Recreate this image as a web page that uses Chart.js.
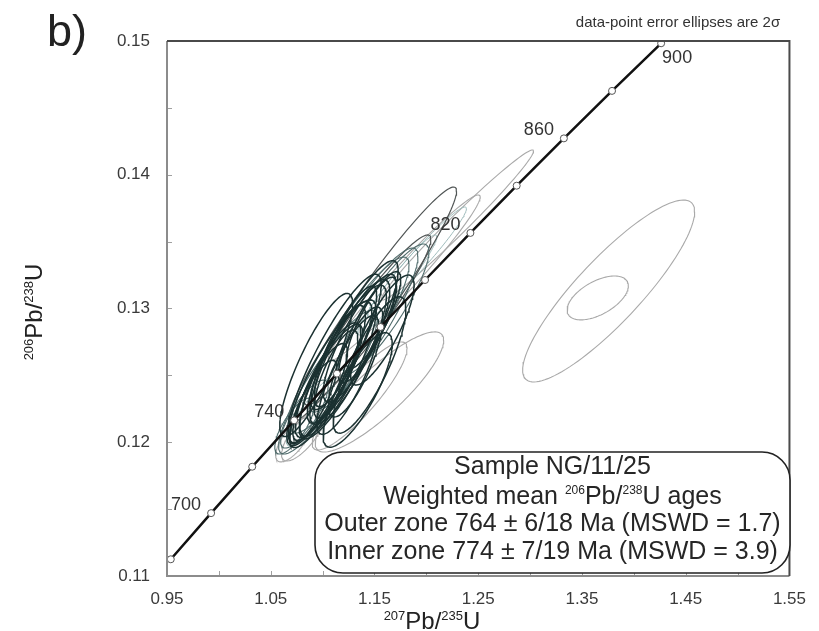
<!DOCTYPE html>
<html>
<head>
<meta charset="utf-8">
<script src="https://cdn.jsdelivr.net/npm/chart.js@4.4.1/dist/chart.umd.min.js"></script>
<style>
  html, body { margin: 0; padding: 0; background: #ffffff; }
  canvas { display: block; }
</style>
</head>
<body>
<canvas id="chart" width="819" height="631"></canvas>
<script>
// ---- Concordia: age markers (Ma) with their 207Pb/235U and 206Pb/238U ratios ----
const concAges = [680, 700, 720, 740, 760, 780, 800, 820, 840, 860, 880, 900];
const concX = [0.95365, 0.99251, 1.03214, 1.07257, 1.11380, 1.15585, 1.19873, 1.24247, 1.28708, 1.33257, 1.37897, 1.42630];
const concY = [0.11125, 0.11470, 0.11817, 0.12164, 0.12513, 0.12862, 0.13213, 0.13565, 0.13918, 0.14272, 0.14627, 0.14983];
const concLabelAges = [700, 740, 820, 860, 900];

// ---- Zircon spot analyses: ratios, 2-sigma errors, error correlation, group ----
const ellX   = [1.1195, 1.1148, 1.1262, 1.1052, 1.1357, 1.1110, 1.1243, 1.0976, 1.1433, 1.1071,
                1.1319, 1.1205, 1.0910, 1.1490, 1.1167, 1.1033, 1.1290, 1.1129,
                1.1452, 1.1338, 1.1576, 1.0938,
                1.1262, 1.1395, 1.1052, 1.0824, 1.0729, 1.1586, 1.1481, 1.1433,
                1.2300, 1.1786, 1.1548, 1.1357, 1.0719, 1.0814, 1.3757, 1.3652,
                1.1910, 1.1719, 1.0938];
const ellY   = [0.12600, 0.12555, 0.12675, 0.12465, 0.12779, 0.12615, 0.12503, 0.12376, 0.12839, 0.12525,
                0.12600, 0.12705, 0.12301, 0.12914, 0.12645, 0.12421, 0.12750, 0.12510,
                0.12578, 0.12391, 0.12839, 0.12578,
                0.12727, 0.12839, 0.12450, 0.12211, 0.12121, 0.12989, 0.13026, 0.12914,
                0.13624, 0.13228, 0.12376, 0.12346, 0.12017, 0.12054, 0.13131, 0.13079,
                0.13348, 0.13176, 0.12256];
const ellSX  = [0.0420, 0.0368, 0.0385, 0.0316, 0.0351, 0.0455, 0.0298, 0.0263, 0.0281, 0.0403,
                0.0263, 0.0316, 0.0228, 0.0263, 0.0246, 0.0351, 0.0438, 0.0211,
                0.0351, 0.0333, 0.0306, 0.0351,
                0.0571, 0.0524, 0.0476, 0.0229, 0.0190, 0.0438, 0.0810, 0.0610,
                0.0733, 0.0733, 0.0619, 0.0457, 0.0171, 0.0210, 0.0829, 0.0295,
                0.0476, 0.0381, 0.0286];
const ellSY  = [0.00575, 0.00510, 0.00542, 0.00428, 0.00477, 0.00641, 0.00444, 0.00362, 0.00395, 0.00527,
                0.00411, 0.00461, 0.00312, 0.00362, 0.00378, 0.00461, 0.00608, 0.00329,
                0.00510, 0.00428, 0.00411, 0.00535,
                0.00658, 0.00613, 0.00538, 0.00254, 0.00209, 0.00493, 0.00882, 0.00636,
                0.00561, 0.00621, 0.00449, 0.00404, 0.00164, 0.00194, 0.00680, 0.00164,
                0.00411, 0.00374, 0.00284];
const ellRho = [0.86, 0.84, 0.85, 0.83, 0.85, 0.88, 0.82, 0.83, 0.84, 0.87,
                0.78, 0.85, 0.82, 0.84, 0.80, 0.86, 0.88, 0.78,
                0.82, 0.80, 0.82, 0.85,
                0.91, 0.90, 0.89, 0.80, 0.75, 0.88, 0.965, 0.95,
                0.985, 0.975, 0.86, 0.88, 0.70, 0.75, 0.87, 0.55,
                0.97, 0.96, 0.88];
const ellGroup = ['core','core','core','core','core','core','core','core','core','core',
                  'core','core','core','core','core','core','core','core',
                  'core','core','core','core',
                  'rim','rim','rim','rim','rim','rim','outlier','outlier',
                  'excluded','excluded','excluded','excluded','excluded','excluded','excluded','excluded',
                  'faint','faint','faint'];

// ---- Axis ticks ----
const xTicks = [0.95, 1.05, 1.15, 1.25, 1.35, 1.45, 1.55];
const yTicks = [0.11, 0.12, 0.13, 0.14, 0.15];

const FONT = '"Liberation Sans", Arial, sans-serif';

const groupStyle = {
  core:     { color: '#1b3131', width: 1.5, order: 2 },
  rim:      { color: '#4f6b6b', width: 1.1, order: 3 },
  outlier:  { color: '#505555', width: 1.2, order: 3 },
  faint:    { color: '#9fbcbc', width: 1.0, order: 4 },
  excluded: { color: '#a9a9a9', width: 1.1, order: 5 }
};

// outline of one error ellipse, traced in data space
function ellipseOutline(i) {
  const pts = [];
  const n = 120;
  const r = ellRho[i];
  const k = Math.sqrt(1 - r * r);
  for (let j = 0; j <= n; j++) {
    const t = 2 * Math.PI * j / n;
    const c = Math.cos(t), s = Math.sin(t);
    pts.push({ x: ellX[i] + ellSX[i] * c, y: ellY[i] + ellSY[i] * (r * c + k * s) });
  }
  return pts;
}

const datasets = [];
datasets.push({
  label: 'Concordia',
  data: concX.map((x, i) => ({ x: x, y: concY[i] })),
  showLine: true,
  borderColor: '#111111',
  borderWidth: 2.5,
  pointRadius: 3.5,
  pointBackgroundColor: '#ffffff',
  pointBorderColor: '#555555',
  pointBorderWidth: 1,
  tension: 0,
  order: 0
});
for (let i = 0; i < ellX.length; i++) {
  const st = groupStyle[ellGroup[i]];
  datasets.push({
    label: 'spot ' + (i + 1),
    data: ellipseOutline(i),
    showLine: true,
    borderColor: st.color,
    borderWidth: st.width,
    pointRadius: 0,
    fill: false,
    tension: 0,
    order: st.order
  });
}

// text with superscript runs
function drawParts(ctx, parts, cx, baseline, mainSize, supSize, raise, color) {
  ctx.textAlign = 'left';
  ctx.textBaseline = 'alphabetic';
  ctx.fillStyle = color;
  let total = 0;
  const widths = parts.map(p => {
    ctx.font = (p.sup ? supSize : mainSize) + 'px ' + FONT;
    const w = ctx.measureText(p.t).width;
    total += w;
    return w;
  });
  let x = cx - total / 2;
  parts.forEach((p, i) => {
    ctx.font = (p.sup ? supSize : mainSize) + 'px ' + FONT;
    ctx.fillText(p.t, x, p.sup ? baseline - raise : baseline);
    x += widths[i];
  });
}

const decorations = {
  id: 'decorations',
  beforeDraw(chart) {
    const ctx = chart.ctx;
    ctx.save();
    ctx.fillStyle = '#ffffff';
    ctx.fillRect(0, 0, chart.width, chart.height);
    ctx.restore();
  },
  afterDatasetsDraw(chart) {
    const ctx = chart.ctx;
    const a = chart.chartArea;
    const xs = chart.scales.x, ys = chart.scales.y;
    ctx.save();

    // small inward tick marks
    ctx.strokeStyle = '#a0a0a0';
    ctx.lineWidth = 1;
    for (let i = 0; i < xTicks.length; i++) {
      const vals = [xTicks[i]];
      if (i < xTicks.length - 1) vals.push((xTicks[i] + xTicks[i + 1]) / 2);
      vals.forEach(v => {
        const px = Math.round(xs.getPixelForValue(v)) + 0.5;
        ctx.beginPath(); ctx.moveTo(px, a.bottom); ctx.lineTo(px, a.bottom - 5); ctx.stroke();
      });
    }
    for (let i = 0; i < yTicks.length; i++) {
      const vals = [yTicks[i]];
      if (i < yTicks.length - 1) vals.push((yTicks[i] + yTicks[i + 1]) / 2);
      vals.forEach(v => {
        const py = Math.round(ys.getPixelForValue(v)) + 0.5;
        ctx.beginPath(); ctx.moveTo(a.left, py); ctx.lineTo(a.left + 5, py); ctx.stroke();
      });
    }

    // plot frame
    ctx.lineWidth = 2;
    ctx.strokeStyle = '#8c8c8c';
    ctx.beginPath(); ctx.moveTo(a.left, a.top); ctx.lineTo(a.left, a.bottom); ctx.lineTo(a.right, a.bottom); ctx.stroke();
    ctx.strokeStyle = '#4a4a4a';
    ctx.beginPath(); ctx.moveTo(a.left, a.top); ctx.lineTo(a.right, a.top); ctx.lineTo(a.right, a.bottom); ctx.stroke();

    // concordia age labels
    ctx.font = '18px ' + FONT;
    ctx.fillStyle = '#333333';
    ctx.textAlign = 'center';
    ctx.textBaseline = 'middle';
    concLabelAges.forEach(age => {
      const i = concAges.indexOf(age);
      const px = xs.getPixelForValue(concX[i]);
      const py = ys.getPixelForValue(concY[i]);
      const off = (i === concAges.length - 1) ? [16, 15] : [-25, -8];
      ctx.fillText(String(age), px + off[0], py + off[1]);
    });

    // results box
    const bx = 315, by = 452, bw = 475, bh = 121, br = 28;
    ctx.beginPath();
    ctx.roundRect(bx, by, bw, bh, br);
    ctx.fillStyle = '#ffffff';
    ctx.fill();
    ctx.lineWidth = 1.6;
    ctx.strokeStyle = '#222222';
    ctx.stroke();

    const cx = bx + bw / 2;
    ctx.fillStyle = '#262626';
    ctx.textAlign = 'center';
    ctx.textBaseline = 'middle';
    ctx.font = '25px ' + FONT;
    ctx.fillText('Sample NG/11/25', cx, 467);
    drawParts(ctx, [
      { t: 'Weighted mean ' }, { t: '206', sup: true }, { t: 'Pb/' },
      { t: '238', sup: true }, { t: 'U ages' }
    ], cx, 504, 25, 12, 10, '#262626');
    ctx.textAlign = 'center';
    ctx.textBaseline = 'middle';
    ctx.font = '25px ' + FONT;
    ctx.fillText('Outer zone 764 \u00b1 6/18 Ma (MSWD = 1.7)', cx, 524);
    ctx.fillText('Inner zone 774 \u00b1 7/19 Ma (MSWD = 3.9)', cx, 552);

    // axis titles
    drawParts(ctx, [
      { t: '207', sup: true }, { t: 'Pb/' }, { t: '235', sup: true }, { t: 'U' }
    ], 432, 629, 24, 13, 9, '#222222');
    ctx.save();
    ctx.translate(42, 312);
    ctx.rotate(-Math.PI / 2);
    drawParts(ctx, [
      { t: '206', sup: true }, { t: 'Pb/' }, { t: '238', sup: true }, { t: 'U' }
    ], 0, 0, 24, 13, 9, '#222222');
    ctx.restore();

    // panel letter and note
    ctx.textAlign = 'left';
    ctx.textBaseline = 'alphabetic';
    ctx.fillStyle = '#222222';
    ctx.font = '45px ' + FONT;
    ctx.fillText('b)', 47, 46);
    ctx.textAlign = 'center';
    ctx.textBaseline = 'middle';
    ctx.font = '15px ' + FONT;
    ctx.fillStyle = '#333333';
    ctx.fillText('data-point error ellipses are 2\u03c3', 678, 23);

    ctx.restore();
  }
};

new Chart(document.getElementById('chart'), {
  type: 'scatter',
  data: { datasets: datasets },
  options: {
    responsive: false,
    animation: false,
    devicePixelRatio: 1,
    layout: { padding: { left: 0, right: 22, top: 41, bottom: 0 } },
    plugins: { legend: { display: false }, tooltip: { enabled: false } },
    scales: {
      x: {
        type: 'linear',
        min: 0.95,
        max: 1.55,
        afterBuildTicks: s => { s.ticks = xTicks.map(v => ({ value: v })); },
        afterFit: s => { s.height = 55; },
        grid: { display: false, drawTicks: false },
        border: { display: false },
        ticks: {
          padding: 13,
          color: '#3a3a3a',
          font: { family: FONT, size: 17 },
          callback: v => Number(v).toFixed(2)
        }
      },
      y: {
        type: 'linear',
        min: 0.11,
        max: 0.15,
        afterBuildTicks: s => { s.ticks = yTicks.map(v => ({ value: v })); },
        afterFit: s => { s.width = 167; },
        grid: { display: false, drawTicks: false },
        border: { display: false },
        ticks: {
          padding: 17,
          color: '#3a3a3a',
          font: { family: FONT, size: 17 },
          callback: v => Number(v).toFixed(2)
        }
      }
    }
  },
  plugins: [decorations]
});
</script>
</body>
</html>
